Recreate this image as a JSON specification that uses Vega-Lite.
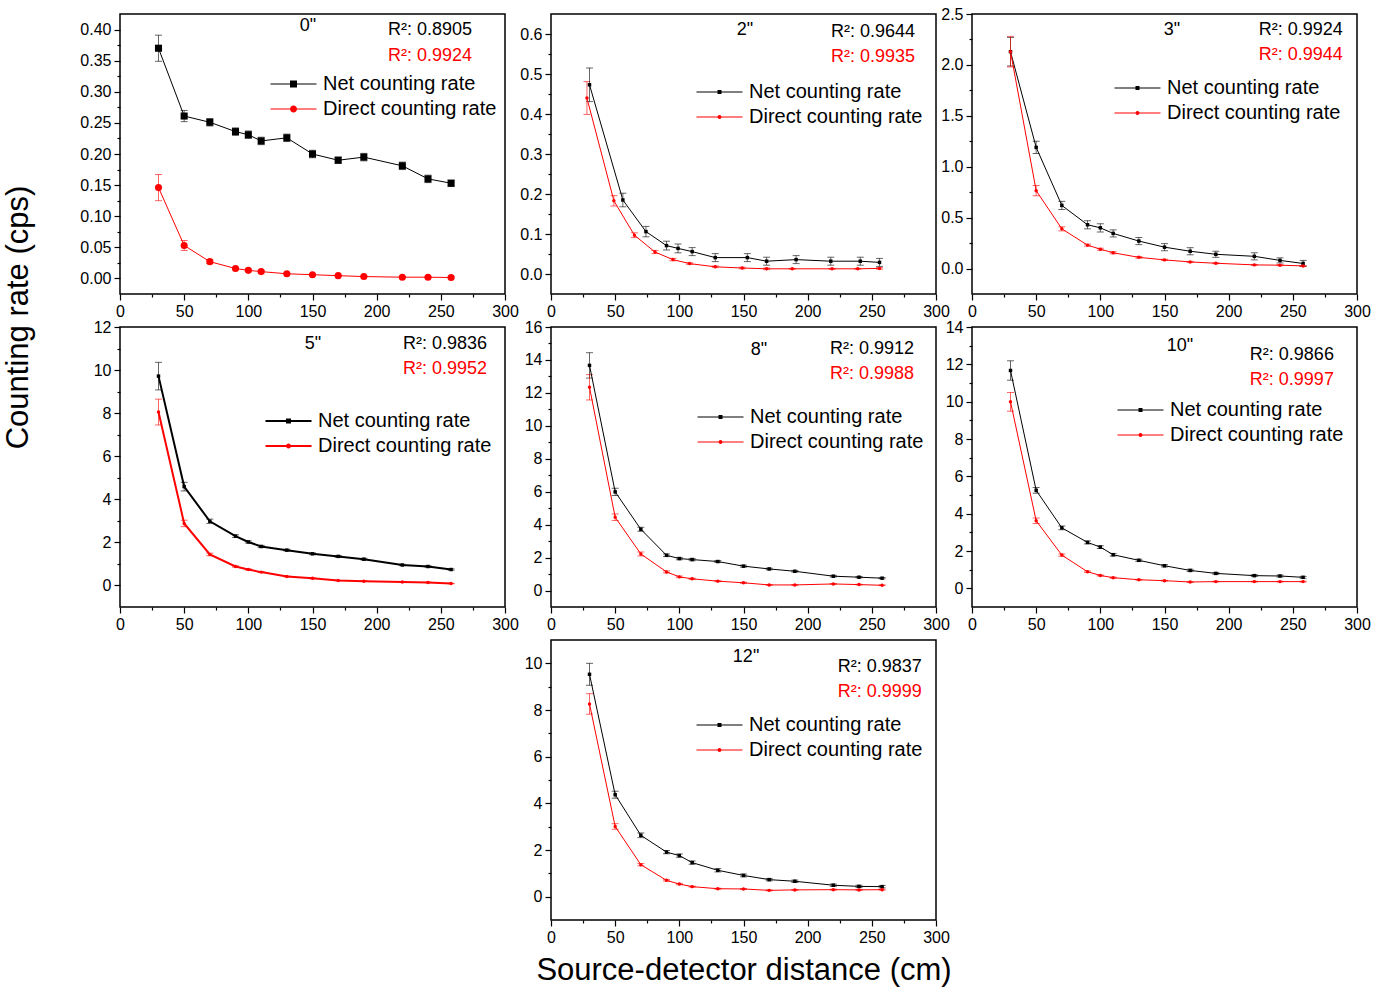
{
"$schema":"https://vega.github.io/schema/vega-lite/v6.json",
"background":"white",
"padding":{"left":1,"top":5,"right":5,"bottom":5},
"datasets":{
"rates":[
{"panel":"0\"","series":"Net counting rate","distance":30,"rate":0.370,"error":0.021},
{"panel":"0\"","series":"Net counting rate","distance":50,"rate":0.261,"error":0.009},
{"panel":"0\"","series":"Net counting rate","distance":70,"rate":0.251,"error":0.006},
{"panel":"0\"","series":"Net counting rate","distance":90,"rate":0.236,"error":0.006},
{"panel":"0\"","series":"Net counting rate","distance":100,"rate":0.231,"error":0.006},
{"panel":"0\"","series":"Net counting rate","distance":110,"rate":0.221,"error":0.006},
{"panel":"0\"","series":"Net counting rate","distance":130,"rate":0.226,"error":0.006},
{"panel":"0\"","series":"Net counting rate","distance":150,"rate":0.200,"error":0.006},
{"panel":"0\"","series":"Net counting rate","distance":170,"rate":0.190,"error":0.005},
{"panel":"0\"","series":"Net counting rate","distance":190,"rate":0.195,"error":0.006},
{"panel":"0\"","series":"Net counting rate","distance":220,"rate":0.181,"error":0.006},
{"panel":"0\"","series":"Net counting rate","distance":240,"rate":0.160,"error":0.006},
{"panel":"0\"","series":"Net counting rate","distance":258,"rate":0.153,"error":0.005},
{"panel":"0\"","series":"Direct counting rate","distance":30,"rate":0.146,"error":0.021},
{"panel":"0\"","series":"Direct counting rate","distance":50,"rate":0.053,"error":0.008},
{"panel":"0\"","series":"Direct counting rate","distance":70,"rate":0.027,"error":0.003},
{"panel":"0\"","series":"Direct counting rate","distance":90,"rate":0.016,"error":0.002},
{"panel":"0\"","series":"Direct counting rate","distance":100,"rate":0.013,"error":0.002},
{"panel":"0\"","series":"Direct counting rate","distance":110,"rate":0.011,"error":0.002},
{"panel":"0\"","series":"Direct counting rate","distance":130,"rate":0.0075,"error":0.001},
{"panel":"0\"","series":"Direct counting rate","distance":150,"rate":0.006,"error":0.001},
{"panel":"0\"","series":"Direct counting rate","distance":170,"rate":0.0045,"error":0.001},
{"panel":"0\"","series":"Direct counting rate","distance":190,"rate":0.003,"error":0.001},
{"panel":"0\"","series":"Direct counting rate","distance":220,"rate":0.002,"error":0.001},
{"panel":"0\"","series":"Direct counting rate","distance":240,"rate":0.002,"error":0.001},
{"panel":"0\"","series":"Direct counting rate","distance":258,"rate":0.0015,"error":0.001},
{"panel":"2\"","series":"Net counting rate","distance":30,"rate":0.473,"error":0.042},
{"panel":"2\"","series":"Net counting rate","distance":56,"rate":0.185,"error":0.017},
{"panel":"2\"","series":"Net counting rate","distance":74,"rate":0.106,"error":0.013},
{"panel":"2\"","series":"Net counting rate","distance":90,"rate":0.071,"error":0.011},
{"panel":"2\"","series":"Net counting rate","distance":99,"rate":0.064,"error":0.011},
{"panel":"2\"","series":"Net counting rate","distance":110,"rate":0.056,"error":0.010},
{"panel":"2\"","series":"Net counting rate","distance":128,"rate":0.041,"error":0.010},
{"panel":"2\"","series":"Net counting rate","distance":153,"rate":0.041,"error":0.010},
{"panel":"2\"","series":"Net counting rate","distance":168,"rate":0.032,"error":0.010},
{"panel":"2\"","series":"Net counting rate","distance":191,"rate":0.036,"error":0.010},
{"panel":"2\"","series":"Net counting rate","distance":218,"rate":0.032,"error":0.010},
{"panel":"2\"","series":"Net counting rate","distance":241,"rate":0.032,"error":0.010},
{"panel":"2\"","series":"Net counting rate","distance":256,"rate":0.029,"error":0.010},
{"panel":"2\"","series":"Direct counting rate","distance":28,"rate":0.440,"error":0.041},
{"panel":"2\"","series":"Direct counting rate","distance":49,"rate":0.183,"error":0.013},
{"panel":"2\"","series":"Direct counting rate","distance":65,"rate":0.097,"error":0.006},
{"panel":"2\"","series":"Direct counting rate","distance":81,"rate":0.055,"error":0.004},
{"panel":"2\"","series":"Direct counting rate","distance":95,"rate":0.036,"error":0.003},
{"panel":"2\"","series":"Direct counting rate","distance":108,"rate":0.026,"error":0.002},
{"panel":"2\"","series":"Direct counting rate","distance":128,"rate":0.018,"error":0.002},
{"panel":"2\"","series":"Direct counting rate","distance":149,"rate":0.015,"error":0.002},
{"panel":"2\"","series":"Direct counting rate","distance":168,"rate":0.013,"error":0.002},
{"panel":"2\"","series":"Direct counting rate","distance":188,"rate":0.013,"error":0.001},
{"panel":"2\"","series":"Direct counting rate","distance":219,"rate":0.013,"error":0.001},
{"panel":"2\"","series":"Direct counting rate","distance":239,"rate":0.013,"error":0.001},
{"panel":"2\"","series":"Direct counting rate","distance":256,"rate":0.014,"error":0.002},
{"panel":"3\"","series":"Net counting rate","distance":30,"rate":2.13,"error":0.14},
{"panel":"3\"","series":"Net counting rate","distance":50,"rate":1.19,"error":0.06},
{"panel":"3\"","series":"Net counting rate","distance":70,"rate":0.62,"error":0.04},
{"panel":"3\"","series":"Net counting rate","distance":90,"rate":0.43,"error":0.04},
{"panel":"3\"","series":"Net counting rate","distance":100,"rate":0.40,"error":0.04},
{"panel":"3\"","series":"Net counting rate","distance":110,"rate":0.345,"error":0.035},
{"panel":"3\"","series":"Net counting rate","distance":130,"rate":0.27,"error":0.035},
{"panel":"3\"","series":"Net counting rate","distance":150,"rate":0.21,"error":0.035},
{"panel":"3\"","series":"Net counting rate","distance":170,"rate":0.17,"error":0.035},
{"panel":"3\"","series":"Net counting rate","distance":190,"rate":0.14,"error":0.03},
{"panel":"3\"","series":"Net counting rate","distance":220,"rate":0.12,"error":0.035},
{"panel":"3\"","series":"Net counting rate","distance":240,"rate":0.08,"error":0.025},
{"panel":"3\"","series":"Net counting rate","distance":258,"rate":0.05,"error":0.03},
{"panel":"3\"","series":"Direct counting rate","distance":30,"rate":2.13,"error":0.15},
{"panel":"3\"","series":"Direct counting rate","distance":50,"rate":0.765,"error":0.05},
{"panel":"3\"","series":"Direct counting rate","distance":70,"rate":0.39,"error":0.02},
{"panel":"3\"","series":"Direct counting rate","distance":90,"rate":0.23,"error":0.01},
{"panel":"3\"","series":"Direct counting rate","distance":100,"rate":0.19,"error":0.01},
{"panel":"3\"","series":"Direct counting rate","distance":110,"rate":0.155,"error":0.01},
{"panel":"3\"","series":"Direct counting rate","distance":130,"rate":0.11,"error":0.008},
{"panel":"3\"","series":"Direct counting rate","distance":150,"rate":0.085,"error":0.006},
{"panel":"3\"","series":"Direct counting rate","distance":170,"rate":0.065,"error":0.005},
{"panel":"3\"","series":"Direct counting rate","distance":190,"rate":0.052,"error":0.005},
{"panel":"3\"","series":"Direct counting rate","distance":220,"rate":0.036,"error":0.005},
{"panel":"3\"","series":"Direct counting rate","distance":240,"rate":0.033,"error":0.005},
{"panel":"3\"","series":"Direct counting rate","distance":258,"rate":0.026,"error":0.004},
{"panel":"5\"","series":"Net counting rate","distance":30,"rate":9.72,"error":0.64},
{"panel":"5\"","series":"Net counting rate","distance":50,"rate":4.59,"error":0.2},
{"panel":"5\"","series":"Net counting rate","distance":70,"rate":2.98,"error":0.1},
{"panel":"5\"","series":"Net counting rate","distance":90,"rate":2.29,"error":0.06},
{"panel":"5\"","series":"Net counting rate","distance":100,"rate":2.02,"error":0.05},
{"panel":"5\"","series":"Net counting rate","distance":110,"rate":1.81,"error":0.05},
{"panel":"5\"","series":"Net counting rate","distance":130,"rate":1.64,"error":0.04},
{"panel":"5\"","series":"Net counting rate","distance":150,"rate":1.47,"error":0.04},
{"panel":"5\"","series":"Net counting rate","distance":170,"rate":1.35,"error":0.04},
{"panel":"5\"","series":"Net counting rate","distance":190,"rate":1.22,"error":0.04},
{"panel":"5\"","series":"Net counting rate","distance":220,"rate":0.95,"error":0.03},
{"panel":"5\"","series":"Net counting rate","distance":240,"rate":0.88,"error":0.03},
{"panel":"5\"","series":"Net counting rate","distance":258,"rate":0.74,"error":0.03},
{"panel":"5\"","series":"Direct counting rate","distance":30,"rate":8.05,"error":0.6},
{"panel":"5\"","series":"Direct counting rate","distance":50,"rate":2.88,"error":0.15},
{"panel":"5\"","series":"Direct counting rate","distance":70,"rate":1.44,"error":0.06},
{"panel":"5\"","series":"Direct counting rate","distance":90,"rate":0.88,"error":0.03},
{"panel":"5\"","series":"Direct counting rate","distance":100,"rate":0.74,"error":0.03},
{"panel":"5\"","series":"Direct counting rate","distance":110,"rate":0.62,"error":0.02},
{"panel":"5\"","series":"Direct counting rate","distance":130,"rate":0.42,"error":0.02},
{"panel":"5\"","series":"Direct counting rate","distance":150,"rate":0.33,"error":0.02},
{"panel":"5\"","series":"Direct counting rate","distance":170,"rate":0.23,"error":0.01},
{"panel":"5\"","series":"Direct counting rate","distance":190,"rate":0.20,"error":0.01},
{"panel":"5\"","series":"Direct counting rate","distance":220,"rate":0.16,"error":0.01},
{"panel":"5\"","series":"Direct counting rate","distance":240,"rate":0.14,"error":0.01},
{"panel":"5\"","series":"Direct counting rate","distance":258,"rate":0.09,"error":0.01},
{"panel":"8\"","series":"Net counting rate","distance":30,"rate":13.67,"error":0.77},
{"panel":"8\"","series":"Net counting rate","distance":50,"rate":5.99,"error":0.22},
{"panel":"8\"","series":"Net counting rate","distance":70,"rate":3.72,"error":0.12},
{"panel":"8\"","series":"Net counting rate","distance":90,"rate":2.14,"error":0.08},
{"panel":"8\"","series":"Net counting rate","distance":100,"rate":1.94,"error":0.07},
{"panel":"8\"","series":"Net counting rate","distance":110,"rate":1.88,"error":0.07},
{"panel":"8\"","series":"Net counting rate","distance":130,"rate":1.76,"error":0.06},
{"panel":"8\"","series":"Net counting rate","distance":150,"rate":1.48,"error":0.06},
{"panel":"8\"","series":"Net counting rate","distance":170,"rate":1.31,"error":0.05},
{"panel":"8\"","series":"Net counting rate","distance":190,"rate":1.17,"error":0.05},
{"panel":"8\"","series":"Net counting rate","distance":220,"rate":0.87,"error":0.05},
{"panel":"8\"","series":"Net counting rate","distance":240,"rate":0.81,"error":0.04},
{"panel":"8\"","series":"Net counting rate","distance":258,"rate":0.75,"error":0.04},
{"panel":"8\"","series":"Direct counting rate","distance":30,"rate":12.34,"error":0.77},
{"panel":"8\"","series":"Direct counting rate","distance":50,"rate":4.45,"error":0.2},
{"panel":"8\"","series":"Direct counting rate","distance":70,"rate":2.22,"error":0.12},
{"panel":"8\"","series":"Direct counting rate","distance":90,"rate":1.13,"error":0.06},
{"panel":"8\"","series":"Direct counting rate","distance":100,"rate":0.83,"error":0.05},
{"panel":"8\"","series":"Direct counting rate","distance":110,"rate":0.71,"error":0.04},
{"panel":"8\"","series":"Direct counting rate","distance":130,"rate":0.57,"error":0.03},
{"panel":"8\"","series":"Direct counting rate","distance":150,"rate":0.47,"error":0.03},
{"panel":"8\"","series":"Direct counting rate","distance":170,"rate":0.34,"error":0.02},
{"panel":"8\"","series":"Direct counting rate","distance":190,"rate":0.34,"error":0.02},
{"panel":"8\"","series":"Direct counting rate","distance":220,"rate":0.40,"error":0.02},
{"panel":"8\"","series":"Direct counting rate","distance":240,"rate":0.36,"error":0.02},
{"panel":"8\"","series":"Direct counting rate","distance":258,"rate":0.32,"error":0.02},
{"panel":"10\"","series":"Net counting rate","distance":30,"rate":11.67,"error":0.52},
{"panel":"10\"","series":"Net counting rate","distance":50,"rate":5.25,"error":0.15},
{"panel":"10\"","series":"Net counting rate","distance":70,"rate":3.24,"error":0.1},
{"panel":"10\"","series":"Net counting rate","distance":90,"rate":2.46,"error":0.08},
{"panel":"10\"","series":"Net counting rate","distance":100,"rate":2.21,"error":0.07},
{"panel":"10\"","series":"Net counting rate","distance":110,"rate":1.80,"error":0.07},
{"panel":"10\"","series":"Net counting rate","distance":130,"rate":1.50,"error":0.06},
{"panel":"10\"","series":"Net counting rate","distance":150,"rate":1.21,"error":0.06},
{"panel":"10\"","series":"Net counting rate","distance":170,"rate":0.96,"error":0.06},
{"panel":"10\"","series":"Net counting rate","distance":190,"rate":0.80,"error":0.05},
{"panel":"10\"","series":"Net counting rate","distance":220,"rate":0.68,"error":0.05},
{"panel":"10\"","series":"Net counting rate","distance":240,"rate":0.66,"error":0.05},
{"panel":"10\"","series":"Net counting rate","distance":258,"rate":0.59,"error":0.05},
{"panel":"10\"","series":"Direct counting rate","distance":30,"rate":9.99,"error":0.5},
{"panel":"10\"","series":"Direct counting rate","distance":50,"rate":3.62,"error":0.15},
{"panel":"10\"","series":"Direct counting rate","distance":70,"rate":1.78,"error":0.06},
{"panel":"10\"","series":"Direct counting rate","distance":90,"rate":0.89,"error":0.04},
{"panel":"10\"","series":"Direct counting rate","distance":100,"rate":0.69,"error":0.03},
{"panel":"10\"","series":"Direct counting rate","distance":110,"rate":0.57,"error":0.03},
{"panel":"10\"","series":"Direct counting rate","distance":130,"rate":0.46,"error":0.02},
{"panel":"10\"","series":"Direct counting rate","distance":150,"rate":0.41,"error":0.02},
{"panel":"10\"","series":"Direct counting rate","distance":170,"rate":0.34,"error":0.02},
{"panel":"10\"","series":"Direct counting rate","distance":190,"rate":0.36,"error":0.02},
{"panel":"10\"","series":"Direct counting rate","distance":220,"rate":0.36,"error":0.02},
{"panel":"10\"","series":"Direct counting rate","distance":240,"rate":0.36,"error":0.02},
{"panel":"10\"","series":"Direct counting rate","distance":258,"rate":0.36,"error":0.02},
{"panel":"12\"","series":"Net counting rate","distance":30,"rate":9.53,"error":0.47},
{"panel":"12\"","series":"Net counting rate","distance":50,"rate":4.37,"error":0.15},
{"panel":"12\"","series":"Net counting rate","distance":70,"rate":2.63,"error":0.1},
{"panel":"12\"","series":"Net counting rate","distance":90,"rate":1.91,"error":0.07},
{"panel":"12\"","series":"Net counting rate","distance":100,"rate":1.76,"error":0.07},
{"panel":"12\"","series":"Net counting rate","distance":110,"rate":1.46,"error":0.07},
{"panel":"12\"","series":"Net counting rate","distance":130,"rate":1.13,"error":0.07},
{"panel":"12\"","series":"Net counting rate","distance":150,"rate":0.91,"error":0.06},
{"panel":"12\"","series":"Net counting rate","distance":170,"rate":0.73,"error":0.05},
{"panel":"12\"","series":"Net counting rate","distance":190,"rate":0.66,"error":0.05},
{"panel":"12\"","series":"Net counting rate","distance":220,"rate":0.49,"error":0.05},
{"panel":"12\"","series":"Net counting rate","distance":240,"rate":0.44,"error":0.05},
{"panel":"12\"","series":"Net counting rate","distance":258,"rate":0.43,"error":0.05},
{"panel":"12\"","series":"Direct counting rate","distance":30,"rate":8.26,"error":0.44},
{"panel":"12\"","series":"Direct counting rate","distance":50,"rate":3.01,"error":0.12},
{"panel":"12\"","series":"Direct counting rate","distance":70,"rate":1.37,"error":0.05},
{"panel":"12\"","series":"Direct counting rate","distance":90,"rate":0.70,"error":0.03},
{"panel":"12\"","series":"Direct counting rate","distance":100,"rate":0.54,"error":0.03},
{"panel":"12\"","series":"Direct counting rate","distance":110,"rate":0.43,"error":0.02},
{"panel":"12\"","series":"Direct counting rate","distance":130,"rate":0.34,"error":0.02},
{"panel":"12\"","series":"Direct counting rate","distance":150,"rate":0.33,"error":0.02},
{"panel":"12\"","series":"Direct counting rate","distance":170,"rate":0.27,"error":0.02},
{"panel":"12\"","series":"Direct counting rate","distance":190,"rate":0.29,"error":0.02},
{"panel":"12\"","series":"Direct counting rate","distance":220,"rate":0.30,"error":0.02},
{"panel":"12\"","series":"Direct counting rate","distance":240,"rate":0.29,"error":0.02},
{"panel":"12\"","series":"Direct counting rate","distance":258,"rate":0.30,"error":0.02}
],
"fits":[
{"panel":"0\"","series":"Net counting rate","r2":"R²: 0.8905"},
{"panel":"0\"","series":"Direct counting rate","r2":"R²: 0.9924"},
{"panel":"2\"","series":"Net counting rate","r2":"R²: 0.9644"},
{"panel":"2\"","series":"Direct counting rate","r2":"R²: 0.9935"},
{"panel":"3\"","series":"Net counting rate","r2":"R²: 0.9924"},
{"panel":"3\"","series":"Direct counting rate","r2":"R²: 0.9944"},
{"panel":"5\"","series":"Net counting rate","r2":"R²: 0.9836"},
{"panel":"5\"","series":"Direct counting rate","r2":"R²: 0.9952"},
{"panel":"8\"","series":"Net counting rate","r2":"R²: 0.9912"},
{"panel":"8\"","series":"Direct counting rate","r2":"R²: 0.9988"},
{"panel":"10\"","series":"Net counting rate","r2":"R²: 0.9866"},
{"panel":"10\"","series":"Direct counting rate","r2":"R²: 0.9997"},
{"panel":"12\"","series":"Net counting rate","r2":"R²: 0.9837"},
{"panel":"12\"","series":"Direct counting rate","r2":"R²: 0.9999"}
]
},
"columns":3,
"bounds":"flush",
"spacing":{"row":33,"column":36},
"resolve":{"scale":{"color":"independent","shape":"independent"},"legend":{"color":"independent","shape":"independent"}},
"concat":[
{"width":385,"height":280,
 "layer":[
  {"data":{"name":"rates"},"transform":[{"filter":"datum.panel === '0\"'"}],
   "mark":{"type":"errorbar","ticks":{"size":7},"opacity":0.6},
   "encoding":{"x":{"field":"distance","type":"quantitative","scale":{"domain":[0,300],"nice":false},"axis":null},
    "y":{"field":"rate","type":"quantitative","scale":{"domain":[-0.025,0.425],"nice":false,"zero":false},"axis":null},
    "yError":{"field":"error"},
    "color":{"field":"series","type":"nominal","scale":{"domain":["Net counting rate","Direct counting rate"],"range":["black","red"]},"legend":null}}},
  {"data":{"name":"rates"},"transform":[{"filter":"datum.panel === '0\"'"}],
   "mark":{"type":"line","strokeWidth":1},
   "encoding":{"x":{"field":"distance","type":"quantitative","axis":{"orient":"bottom","values":[0,50,100,150,200,250,300],"title":null}},
    "y":{"field":"rate","type":"quantitative","axis":{"orient":"left","values":[0,0.05,0.1,0.15,0.2,0.25,0.3,0.35,0.4],"format":".2f","title":null}},
    "color":{"field":"series","type":"nominal","scale":{"domain":["Net counting rate","Direct counting rate"],"range":["black","red"]},"legend":null}}},
  {"data":{"name":"rates"},"transform":[{"filter":"datum.panel === '0\"'"}],
   "mark":{"type":"point","filled":true,"size":50,"opacity":1},
   "encoding":{"x":{"field":"distance","type":"quantitative","axis":{"orient":"bottom","values":[25,75,125,175,225,275],"labels":false,"tickSize":3,"title":null}},
    "y":{"field":"rate","type":"quantitative","axis":{"orient":"left","values":[0.025,0.075,0.125,0.175,0.225,0.275,0.325,0.375],"labels":false,"tickSize":3,"title":null}},
    "color":{"field":"series","type":"nominal","scale":{"domain":["Net counting rate","Direct counting rate"],"range":["black","red"]},"legend":null},
    "shape":{"field":"series","type":"nominal","scale":{"domain":["Net counting rate","Direct counting rate"],"range":["square","circle"]},"legend":null}}},
  {"data":{"name":"rates"},"transform":[{"filter":"datum.panel === '0\"'"}],
   "mark":{"type":"point","filled":true,"size":4,"opacity":0},
   "encoding":{"x":{"field":"distance","type":"quantitative","axis":null},
    "y":{"field":"rate","type":"quantitative","axis":null},
    "color":{"field":"series","type":"nominal","scale":{"domain":["Net counting rate","Direct counting rate"],"range":["black","red"]},"legend":{"orient":"none","legendX":163.5,"legendY":60,"title":null,"labelOffset":19.5,"symbolOpacity":1,"symbolStrokeWidth":0,"symbolSize":4}},
    "shape":{"field":"series","type":"nominal","scale":{"domain":["Net counting rate","Direct counting rate"],"range":["M-23,-0.5H23V0.5H-23ZM-3.5,-3.5H3.5V3.5H-3.5Z","M-23,-0.5H23V0.5H-23ZM3.5,0A3.5,3.5,0,1,1,-3.5,0A3.5,3.5,0,1,1,3.5,0Z"]},"legend":{"orient":"none","legendX":163.5,"legendY":60,"title":null,"labelOffset":19.5,"symbolOpacity":1,"symbolStrokeWidth":0,"symbolSize":4}}}},
  {"data":{"name":"fits"},"transform":[{"filter":"datum.panel === '0\"' && datum.series === 'Net counting rate'"}],
   "mark":{"type":"text","align":"center","baseline":"middle","fontSize":18,"color":"black"},
   "encoding":{"x":{"datum":146.5,"axis":null},"y":{"datum":0.4057,"axis":null},"text":{"field":"panel"}}},
  {"data":{"name":"fits"},"transform":[{"filter":"datum.panel === '0\"' && datum.series === 'Net counting rate'"}],
   "mark":{"type":"text","align":"right","baseline":"middle","fontSize":18,"color":"black"},
   "encoding":{"x":{"datum":274.3,"axis":null},"y":{"datum":0.3993,"axis":null},"text":{"field":"r2"}}},
  {"data":{"name":"fits"},"transform":[{"filter":"datum.panel === '0\"' && datum.series === 'Direct counting rate'"}],
   "mark":{"type":"text","align":"right","baseline":"middle","fontSize":18,"color":"red"},
   "encoding":{"x":{"datum":274.3,"axis":null},"y":{"datum":0.3575,"axis":null},"text":{"field":"r2"}}}
 ],
 "resolve":{"axis":{"x":"independent","y":"independent"},"scale":{"color":"independent","shape":"independent"}}},
{"width":385,"height":280,
 "layer":[
  {"data":{"name":"rates"},"transform":[{"filter":"datum.panel === '2\"'"}],
   "mark":{"type":"errorbar","ticks":{"size":7},"opacity":0.6},
   "encoding":{"x":{"field":"distance","type":"quantitative","scale":{"domain":[0,300],"nice":false},"axis":null},
    "y":{"field":"rate","type":"quantitative","scale":{"domain":[-0.05,0.65],"nice":false,"zero":false},"axis":null},
    "yError":{"field":"error"},
    "color":{"field":"series","type":"nominal","scale":{"domain":["Net counting rate","Direct counting rate"],"range":["black","red"]},"legend":null}}},
  {"data":{"name":"rates"},"transform":[{"filter":"datum.panel === '2\"'"}],
   "mark":{"type":"line","strokeWidth":1},
   "encoding":{"x":{"field":"distance","type":"quantitative","axis":{"orient":"bottom","values":[0,50,100,150,200,250,300],"title":null}},
    "y":{"field":"rate","type":"quantitative","axis":{"orient":"left","values":[0,0.1,0.2,0.3,0.4,0.5,0.6],"format":".1f","title":null}},
    "color":{"field":"series","type":"nominal","scale":{"domain":["Net counting rate","Direct counting rate"],"range":["black","red"]},"legend":null}}},
  {"data":{"name":"rates"},"transform":[{"filter":"datum.panel === '2\"'"}],
   "mark":{"type":"point","filled":true,"size":12,"opacity":1},
   "encoding":{"x":{"field":"distance","type":"quantitative","axis":{"orient":"bottom","values":[25,75,125,175,225,275],"labels":false,"tickSize":3,"title":null}},
    "y":{"field":"rate","type":"quantitative","axis":{"orient":"left","values":[0.05,0.15,0.25,0.35,0.45,0.55],"labels":false,"tickSize":3,"title":null}},
    "color":{"field":"series","type":"nominal","scale":{"domain":["Net counting rate","Direct counting rate"],"range":["black","red"]},"legend":null},
    "shape":{"field":"series","type":"nominal","scale":{"domain":["Net counting rate","Direct counting rate"],"range":["square","circle"]},"legend":null}}},
  {"data":{"name":"rates"},"transform":[{"filter":"datum.panel === '2\"'"}],
   "mark":{"type":"point","filled":true,"size":4,"opacity":0},
   "encoding":{"x":{"field":"distance","type":"quantitative","axis":null},
    "y":{"field":"rate","type":"quantitative","axis":null},
    "color":{"field":"series","type":"nominal","scale":{"domain":["Net counting rate","Direct counting rate"],"range":["black","red"]},"legend":{"orient":"none","legendX":158.5,"legendY":68,"title":null,"labelOffset":19.5,"symbolOpacity":1,"symbolStrokeWidth":0,"symbolSize":4}},
    "shape":{"field":"series","type":"nominal","scale":{"domain":["Net counting rate","Direct counting rate"],"range":["M-23,-0.5H23V0.5H-23ZM-2,-2H2V2H-2Z","M-23,-0.5H23V0.5H-23ZM2,0A2,2,0,1,1,-2,0A2,2,0,1,1,2,0Z"]},"legend":{"orient":"none","legendX":158.5,"legendY":68,"title":null,"labelOffset":19.5,"symbolOpacity":1,"symbolStrokeWidth":0,"symbolSize":4}}}},
  {"data":{"name":"fits"},"transform":[{"filter":"datum.panel === '2\"' && datum.series === 'Net counting rate'"}],
   "mark":{"type":"text","align":"center","baseline":"middle","fontSize":18,"color":"black"},
   "encoding":{"x":{"datum":151.2,"axis":null},"y":{"datum":0.61,"axis":null},"text":{"field":"panel"}}},
  {"data":{"name":"fits"},"transform":[{"filter":"datum.panel === '2\"' && datum.series === 'Net counting rate'"}],
   "mark":{"type":"text","align":"right","baseline":"middle","fontSize":18,"color":"black"},
   "encoding":{"x":{"datum":283.6,"axis":null},"y":{"datum":0.605,"axis":null},"text":{"field":"r2"}}},
  {"data":{"name":"fits"},"transform":[{"filter":"datum.panel === '2\"' && datum.series === 'Direct counting rate'"}],
   "mark":{"type":"text","align":"right","baseline":"middle","fontSize":18,"color":"red"},
   "encoding":{"x":{"datum":283.6,"axis":null},"y":{"datum":0.5425,"axis":null},"text":{"field":"r2"}}}
 ],
 "resolve":{"axis":{"x":"independent","y":"independent"},"scale":{"color":"independent","shape":"independent"}}},
{"width":385,"height":280,
 "layer":[
  {"data":{"name":"rates"},"transform":[{"filter":"datum.panel === '3\"'"}],
   "mark":{"type":"errorbar","ticks":{"size":7},"opacity":0.6},
   "encoding":{"x":{"field":"distance","type":"quantitative","scale":{"domain":[0,300],"nice":false},"axis":null},
    "y":{"field":"rate","type":"quantitative","scale":{"domain":[-0.25,2.5],"nice":false,"zero":false},"axis":null},
    "yError":{"field":"error"},
    "color":{"field":"series","type":"nominal","scale":{"domain":["Net counting rate","Direct counting rate"],"range":["black","red"]},"legend":null}}},
  {"data":{"name":"rates"},"transform":[{"filter":"datum.panel === '3\"'"}],
   "mark":{"type":"line","strokeWidth":1},
   "encoding":{"x":{"field":"distance","type":"quantitative","axis":{"orient":"bottom","values":[0,50,100,150,200,250,300],"title":null}},
    "y":{"field":"rate","type":"quantitative","axis":{"orient":"left","values":[0,0.5,1,1.5,2,2.5],"format":".1f","title":null}},
    "color":{"field":"series","type":"nominal","scale":{"domain":["Net counting rate","Direct counting rate"],"range":["black","red"]},"legend":null}}},
  {"data":{"name":"rates"},"transform":[{"filter":"datum.panel === '3\"'"}],
   "mark":{"type":"point","filled":true,"size":12,"opacity":1},
   "encoding":{"x":{"field":"distance","type":"quantitative","axis":{"orient":"bottom","values":[25,75,125,175,225,275],"labels":false,"tickSize":3,"title":null}},
    "y":{"field":"rate","type":"quantitative","axis":{"orient":"left","values":[0.25,0.75,1.25,1.75,2.25],"labels":false,"tickSize":3,"title":null}},
    "color":{"field":"series","type":"nominal","scale":{"domain":["Net counting rate","Direct counting rate"],"range":["black","red"]},"legend":null},
    "shape":{"field":"series","type":"nominal","scale":{"domain":["Net counting rate","Direct counting rate"],"range":["square","circle"]},"legend":null}}},
  {"data":{"name":"rates"},"transform":[{"filter":"datum.panel === '3\"'"}],
   "mark":{"type":"point","filled":true,"size":4,"opacity":0},
   "encoding":{"x":{"field":"distance","type":"quantitative","axis":null},
    "y":{"field":"rate","type":"quantitative","axis":null},
    "color":{"field":"series","type":"nominal","scale":{"domain":["Net counting rate","Direct counting rate"],"range":["black","red"]},"legend":{"orient":"none","legendX":155.5,"legendY":64,"title":null,"labelOffset":19.5,"symbolOpacity":1,"symbolStrokeWidth":0,"symbolSize":4}},
    "shape":{"field":"series","type":"nominal","scale":{"domain":["Net counting rate","Direct counting rate"],"range":["M-23,-0.5H23V0.5H-23ZM-2,-2H2V2H-2Z","M-23,-0.5H23V0.5H-23ZM2,0A2,2,0,1,1,-2,0A2,2,0,1,1,2,0Z"]},"legend":{"orient":"none","legendX":155.5,"legendY":64,"title":null,"labelOffset":19.5,"symbolOpacity":1,"symbolStrokeWidth":0,"symbolSize":4}}}},
  {"data":{"name":"fits"},"transform":[{"filter":"datum.panel === '3\"' && datum.series === 'Net counting rate'"}],
   "mark":{"type":"text","align":"center","baseline":"middle","fontSize":18,"color":"black"},
   "encoding":{"x":{"datum":155.8,"axis":null},"y":{"datum":2.343,"axis":null},"text":{"field":"panel"}}},
  {"data":{"name":"fits"},"transform":[{"filter":"datum.panel === '3\"' && datum.series === 'Net counting rate'"}],
   "mark":{"type":"text","align":"right","baseline":"middle","fontSize":18,"color":"black"},
   "encoding":{"x":{"datum":289,"axis":null},"y":{"datum":2.343,"axis":null},"text":{"field":"r2"}}},
  {"data":{"name":"fits"},"transform":[{"filter":"datum.panel === '3\"' && datum.series === 'Direct counting rate'"}],
   "mark":{"type":"text","align":"right","baseline":"middle","fontSize":18,"color":"red"},
   "encoding":{"x":{"datum":289,"axis":null},"y":{"datum":2.097,"axis":null},"text":{"field":"r2"}}}
 ],
 "resolve":{"axis":{"x":"independent","y":"independent"},"scale":{"color":"independent","shape":"independent"}}},
{"width":385,"height":280,
 "layer":[
  {"data":{"name":"rates"},"transform":[{"filter":"datum.panel === '5\"'"}],
   "mark":{"type":"errorbar","ticks":{"size":7},"opacity":0.6},
   "encoding":{"x":{"field":"distance","type":"quantitative","scale":{"domain":[0,300],"nice":false},"axis":null},
    "y":{"field":"rate","type":"quantitative","scale":{"domain":[-1,12],"nice":false,"zero":false},"axis":null},
    "yError":{"field":"error"},
    "color":{"field":"series","type":"nominal","scale":{"domain":["Net counting rate","Direct counting rate"],"range":["black","red"]},"legend":null}}},
  {"data":{"name":"rates"},"transform":[{"filter":"datum.panel === '5\"'"}],
   "mark":{"type":"line","strokeWidth":2},
   "encoding":{"x":{"field":"distance","type":"quantitative","axis":{"orient":"bottom","values":[0,50,100,150,200,250,300],"title":null}},
    "y":{"field":"rate","type":"quantitative","axis":{"orient":"left","values":[0,2,4,6,8,10,12],"format":"d","title":"Counting rate (cps)","titleX":-93,"titleY":-10,"titleBaseline":"alphabetic","titleAlign":"center","titleAngle":-90}},
    "color":{"field":"series","type":"nominal","scale":{"domain":["Net counting rate","Direct counting rate"],"range":["black","red"]},"legend":null}}},
  {"data":{"name":"rates"},"transform":[{"filter":"datum.panel === '5\"'"}],
   "mark":{"type":"point","filled":true,"size":12,"opacity":1},
   "encoding":{"x":{"field":"distance","type":"quantitative","axis":{"orient":"bottom","values":[25,75,125,175,225,275],"labels":false,"tickSize":3,"title":null}},
    "y":{"field":"rate","type":"quantitative","axis":{"orient":"left","values":[1,3,5,7,9,11],"labels":false,"tickSize":3,"title":null}},
    "color":{"field":"series","type":"nominal","scale":{"domain":["Net counting rate","Direct counting rate"],"range":["black","red"]},"legend":null},
    "shape":{"field":"series","type":"nominal","scale":{"domain":["Net counting rate","Direct counting rate"],"range":["square","circle"]},"legend":null}}},
  {"data":{"name":"rates"},"transform":[{"filter":"datum.panel === '5\"'"}],
   "mark":{"type":"point","filled":true,"size":4,"opacity":0},
   "encoding":{"x":{"field":"distance","type":"quantitative","axis":null},
    "y":{"field":"rate","type":"quantitative","axis":null},
    "color":{"field":"series","type":"nominal","scale":{"domain":["Net counting rate","Direct counting rate"],"range":["black","red"]},"legend":{"orient":"none","legendX":158.5,"legendY":84,"title":null,"labelOffset":19.5,"symbolOpacity":1,"symbolStrokeWidth":0,"symbolSize":4}},
    "shape":{"field":"series","type":"nominal","scale":{"domain":["Net counting rate","Direct counting rate"],"range":["M-23,-1H23V1H-23ZM-2.5,-2.5H2.5V2.5H-2.5Z","M-23,-1H23V1H-23ZM2.5,0A2.5,2.5,0,1,1,-2.5,0A2.5,2.5,0,1,1,2.5,0Z"]},"legend":{"orient":"none","legendX":158.5,"legendY":84,"title":null,"labelOffset":19.5,"symbolOpacity":1,"symbolStrokeWidth":0,"symbolSize":4}}}},
  {"data":{"name":"fits"},"transform":[{"filter":"datum.panel === '5\"' && datum.series === 'Net counting rate'"}],
   "mark":{"type":"text","align":"center","baseline":"middle","fontSize":18,"color":"black"},
   "encoding":{"x":{"datum":150.4,"axis":null},"y":{"datum":11.21,"axis":null},"text":{"field":"panel"}}},
  {"data":{"name":"fits"},"transform":[{"filter":"datum.panel === '5\"' && datum.series === 'Net counting rate'"}],
   "mark":{"type":"text","align":"right","baseline":"middle","fontSize":18,"color":"black"},
   "encoding":{"x":{"datum":286,"axis":null},"y":{"datum":11.21,"axis":null},"text":{"field":"r2"}}},
  {"data":{"name":"fits"},"transform":[{"filter":"datum.panel === '5\"' && datum.series === 'Direct counting rate'"}],
   "mark":{"type":"text","align":"right","baseline":"middle","fontSize":18,"color":"red"},
   "encoding":{"x":{"datum":286,"axis":null},"y":{"datum":10.05,"axis":null},"text":{"field":"r2"}}}
 ],
 "resolve":{"axis":{"x":"independent","y":"independent"},"scale":{"color":"independent","shape":"independent"}}},
{"width":385,"height":280,
 "layer":[
  {"data":{"name":"rates"},"transform":[{"filter":"datum.panel === '8\"'"}],
   "mark":{"type":"errorbar","ticks":{"size":7},"opacity":0.6},
   "encoding":{"x":{"field":"distance","type":"quantitative","scale":{"domain":[0,300],"nice":false},"axis":null},
    "y":{"field":"rate","type":"quantitative","scale":{"domain":[-1,16],"nice":false,"zero":false},"axis":null},
    "yError":{"field":"error"},
    "color":{"field":"series","type":"nominal","scale":{"domain":["Net counting rate","Direct counting rate"],"range":["black","red"]},"legend":null}}},
  {"data":{"name":"rates"},"transform":[{"filter":"datum.panel === '8\"'"}],
   "mark":{"type":"line","strokeWidth":1},
   "encoding":{"x":{"field":"distance","type":"quantitative","axis":{"orient":"bottom","values":[0,50,100,150,200,250,300],"title":null}},
    "y":{"field":"rate","type":"quantitative","axis":{"orient":"left","values":[0,2,4,6,8,10,12,14,16],"format":"d","title":null}},
    "color":{"field":"series","type":"nominal","scale":{"domain":["Net counting rate","Direct counting rate"],"range":["black","red"]},"legend":null}}},
  {"data":{"name":"rates"},"transform":[{"filter":"datum.panel === '8\"'"}],
   "mark":{"type":"point","filled":true,"size":12,"opacity":1},
   "encoding":{"x":{"field":"distance","type":"quantitative","axis":{"orient":"bottom","values":[25,75,125,175,225,275],"labels":false,"tickSize":3,"title":null}},
    "y":{"field":"rate","type":"quantitative","axis":{"orient":"left","values":[1,3,5,7,9,11,13,15],"labels":false,"tickSize":3,"title":null}},
    "color":{"field":"series","type":"nominal","scale":{"domain":["Net counting rate","Direct counting rate"],"range":["black","red"]},"legend":null},
    "shape":{"field":"series","type":"nominal","scale":{"domain":["Net counting rate","Direct counting rate"],"range":["square","circle"]},"legend":null}}},
  {"data":{"name":"rates"},"transform":[{"filter":"datum.panel === '8\"'"}],
   "mark":{"type":"point","filled":true,"size":4,"opacity":0},
   "encoding":{"x":{"field":"distance","type":"quantitative","axis":null},
    "y":{"field":"rate","type":"quantitative","axis":null},
    "color":{"field":"series","type":"nominal","scale":{"domain":["Net counting rate","Direct counting rate"],"range":["black","red"]},"legend":{"orient":"none","legendX":159.5,"legendY":80,"title":null,"labelOffset":19.5,"symbolOpacity":1,"symbolStrokeWidth":0,"symbolSize":4}},
    "shape":{"field":"series","type":"nominal","scale":{"domain":["Net counting rate","Direct counting rate"],"range":["M-23,-0.5H23V0.5H-23ZM-2,-2H2V2H-2Z","M-23,-0.5H23V0.5H-23ZM2,0A2,2,0,1,1,-2,0A2,2,0,1,1,2,0Z"]},"legend":{"orient":"none","legendX":159.5,"legendY":80,"title":null,"labelOffset":19.5,"symbolOpacity":1,"symbolStrokeWidth":0,"symbolSize":4}}}},
  {"data":{"name":"fits"},"transform":[{"filter":"datum.panel === '8\"' && datum.series === 'Net counting rate'"}],
   "mark":{"type":"text","align":"center","baseline":"middle","fontSize":18,"color":"black"},
   "encoding":{"x":{"datum":162,"axis":null},"y":{"datum":14.6,"axis":null},"text":{"field":"panel"}}},
  {"data":{"name":"fits"},"transform":[{"filter":"datum.panel === '8\"' && datum.series === 'Net counting rate'"}],
   "mark":{"type":"text","align":"right","baseline":"middle","fontSize":18,"color":"black"},
   "encoding":{"x":{"datum":282.9,"axis":null},"y":{"datum":14.66,"axis":null},"text":{"field":"r2"}}},
  {"data":{"name":"fits"},"transform":[{"filter":"datum.panel === '8\"' && datum.series === 'Direct counting rate'"}],
   "mark":{"type":"text","align":"right","baseline":"middle","fontSize":18,"color":"red"},
   "encoding":{"x":{"datum":282.9,"axis":null},"y":{"datum":13.15,"axis":null},"text":{"field":"r2"}}}
 ],
 "resolve":{"axis":{"x":"independent","y":"independent"},"scale":{"color":"independent","shape":"independent"}}},
{"width":385,"height":280,
 "layer":[
  {"data":{"name":"rates"},"transform":[{"filter":"datum.panel === '10\"'"}],
   "mark":{"type":"errorbar","ticks":{"size":7},"opacity":0.6},
   "encoding":{"x":{"field":"distance","type":"quantitative","scale":{"domain":[0,300],"nice":false},"axis":null},
    "y":{"field":"rate","type":"quantitative","scale":{"domain":[-1,14],"nice":false,"zero":false},"axis":null},
    "yError":{"field":"error"},
    "color":{"field":"series","type":"nominal","scale":{"domain":["Net counting rate","Direct counting rate"],"range":["black","red"]},"legend":null}}},
  {"data":{"name":"rates"},"transform":[{"filter":"datum.panel === '10\"'"}],
   "mark":{"type":"line","strokeWidth":1},
   "encoding":{"x":{"field":"distance","type":"quantitative","axis":{"orient":"bottom","values":[0,50,100,150,200,250,300],"title":null}},
    "y":{"field":"rate","type":"quantitative","axis":{"orient":"left","values":[0,2,4,6,8,10,12,14],"format":"d","title":null}},
    "color":{"field":"series","type":"nominal","scale":{"domain":["Net counting rate","Direct counting rate"],"range":["black","red"]},"legend":null}}},
  {"data":{"name":"rates"},"transform":[{"filter":"datum.panel === '10\"'"}],
   "mark":{"type":"point","filled":true,"size":12,"opacity":1},
   "encoding":{"x":{"field":"distance","type":"quantitative","axis":{"orient":"bottom","values":[25,75,125,175,225,275],"labels":false,"tickSize":3,"title":null}},
    "y":{"field":"rate","type":"quantitative","axis":{"orient":"left","values":[1,3,5,7,9,11,13],"labels":false,"tickSize":3,"title":null}},
    "color":{"field":"series","type":"nominal","scale":{"domain":["Net counting rate","Direct counting rate"],"range":["black","red"]},"legend":null},
    "shape":{"field":"series","type":"nominal","scale":{"domain":["Net counting rate","Direct counting rate"],"range":["square","circle"]},"legend":null}}},
  {"data":{"name":"rates"},"transform":[{"filter":"datum.panel === '10\"'"}],
   "mark":{"type":"point","filled":true,"size":4,"opacity":0},
   "encoding":{"x":{"field":"distance","type":"quantitative","axis":null},
    "y":{"field":"rate","type":"quantitative","axis":null},
    "color":{"field":"series","type":"nominal","scale":{"domain":["Net counting rate","Direct counting rate"],"range":["black","red"]},"legend":{"orient":"none","legendX":158.5,"legendY":73,"title":null,"labelOffset":19.5,"symbolOpacity":1,"symbolStrokeWidth":0,"symbolSize":4}},
    "shape":{"field":"series","type":"nominal","scale":{"domain":["Net counting rate","Direct counting rate"],"range":["M-23,-0.5H23V0.5H-23ZM-2,-2H2V2H-2Z","M-23,-0.5H23V0.5H-23ZM2,0A2,2,0,1,1,-2,0A2,2,0,1,1,2,0Z"]},"legend":{"orient":"none","legendX":158.5,"legendY":73,"title":null,"labelOffset":19.5,"symbolOpacity":1,"symbolStrokeWidth":0,"symbolSize":4}}}},
  {"data":{"name":"fits"},"transform":[{"filter":"datum.panel === '10\"' && datum.series === 'Net counting rate'"}],
   "mark":{"type":"text","align":"center","baseline":"middle","fontSize":18,"color":"black"},
   "encoding":{"x":{"datum":162,"axis":null},"y":{"datum":12.98,"axis":null},"text":{"field":"panel"}}},
  {"data":{"name":"fits"},"transform":[{"filter":"datum.panel === '10\"' && datum.series === 'Net counting rate'"}],
   "mark":{"type":"text","align":"right","baseline":"middle","fontSize":18,"color":"black"},
   "encoding":{"x":{"datum":282,"axis":null},"y":{"datum":12.5,"axis":null},"text":{"field":"r2"}}},
  {"data":{"name":"fits"},"transform":[{"filter":"datum.panel === '10\"' && datum.series === 'Direct counting rate'"}],
   "mark":{"type":"text","align":"right","baseline":"middle","fontSize":18,"color":"red"},
   "encoding":{"x":{"datum":282,"axis":null},"y":{"datum":11.16,"axis":null},"text":{"field":"r2"}}}
 ],
 "resolve":{"axis":{"x":"independent","y":"independent"},"scale":{"color":"independent","shape":"independent"}}},
{"width":395,"height":280,"view":{"stroke":null},
 "data":{"values":[{"blank":""}]},
 "mark":{"type":"text"},
 "encoding":{"text":{"field":"blank"}}},
{"width":385,"height":280,
 "layer":[
  {"data":{"name":"rates"},"transform":[{"filter":"datum.panel === '12\"'"}],
   "mark":{"type":"errorbar","ticks":{"size":7},"opacity":0.6},
   "encoding":{"x":{"field":"distance","type":"quantitative","scale":{"domain":[0,300],"nice":false},"axis":null},
    "y":{"field":"rate","type":"quantitative","scale":{"domain":[-1,11],"nice":false,"zero":false},"axis":null},
    "yError":{"field":"error"},
    "color":{"field":"series","type":"nominal","scale":{"domain":["Net counting rate","Direct counting rate"],"range":["black","red"]},"legend":null}}},
  {"data":{"name":"rates"},"transform":[{"filter":"datum.panel === '12\"'"}],
   "mark":{"type":"line","strokeWidth":1},
   "encoding":{"x":{"field":"distance","type":"quantitative","axis":{"orient":"bottom","values":[0,50,100,150,200,250,300],"title":"Source-detector distance (cm)","titleY":59,"titleBaseline":"alphabetic"}},
    "y":{"field":"rate","type":"quantitative","axis":{"orient":"left","values":[0,2,4,6,8,10],"format":"d","title":null}},
    "color":{"field":"series","type":"nominal","scale":{"domain":["Net counting rate","Direct counting rate"],"range":["black","red"]},"legend":null}}},
  {"data":{"name":"rates"},"transform":[{"filter":"datum.panel === '12\"'"}],
   "mark":{"type":"point","filled":true,"size":12,"opacity":1},
   "encoding":{"x":{"field":"distance","type":"quantitative","axis":{"orient":"bottom","values":[25,75,125,175,225,275],"labels":false,"tickSize":3,"title":null}},
    "y":{"field":"rate","type":"quantitative","axis":{"orient":"left","values":[1,3,5,7,9],"labels":false,"tickSize":3,"title":null}},
    "color":{"field":"series","type":"nominal","scale":{"domain":["Net counting rate","Direct counting rate"],"range":["black","red"]},"legend":null},
    "shape":{"field":"series","type":"nominal","scale":{"domain":["Net counting rate","Direct counting rate"],"range":["square","circle"]},"legend":null}}},
  {"data":{"name":"rates"},"transform":[{"filter":"datum.panel === '12\"'"}],
   "mark":{"type":"point","filled":true,"size":4,"opacity":0},
   "encoding":{"x":{"field":"distance","type":"quantitative","axis":null},
    "y":{"field":"rate","type":"quantitative","axis":null},
    "color":{"field":"series","type":"nominal","scale":{"domain":["Net counting rate","Direct counting rate"],"range":["black","red"]},"legend":{"orient":"none","legendX":158.5,"legendY":75,"title":null,"labelOffset":19.5,"symbolOpacity":1,"symbolStrokeWidth":0,"symbolSize":4}},
    "shape":{"field":"series","type":"nominal","scale":{"domain":["Net counting rate","Direct counting rate"],"range":["M-23,-0.5H23V0.5H-23ZM-2,-2H2V2H-2Z","M-23,-0.5H23V0.5H-23ZM2,0A2,2,0,1,1,-2,0A2,2,0,1,1,2,0Z"]},"legend":{"orient":"none","legendX":158.5,"legendY":75,"title":null,"labelOffset":19.5,"symbolOpacity":1,"symbolStrokeWidth":0,"symbolSize":4}}}},
  {"data":{"name":"fits"},"transform":[{"filter":"datum.panel === '12\"' && datum.series === 'Net counting rate'"}],
   "mark":{"type":"text","align":"center","baseline":"middle","fontSize":18,"color":"black"},
   "encoding":{"x":{"datum":152,"axis":null},"y":{"datum":10.27,"axis":null},"text":{"field":"panel"}}},
  {"data":{"name":"fits"},"transform":[{"filter":"datum.panel === '12\"' && datum.series === 'Net counting rate'"}],
   "mark":{"type":"text","align":"right","baseline":"middle","fontSize":18,"color":"black"},
   "encoding":{"x":{"datum":289,"axis":null},"y":{"datum":9.84,"axis":null},"text":{"field":"r2"}}},
  {"data":{"name":"fits"},"transform":[{"filter":"datum.panel === '12\"' && datum.series === 'Direct counting rate'"}],
   "mark":{"type":"text","align":"right","baseline":"middle","fontSize":18,"color":"red"},
   "encoding":{"x":{"datum":289,"axis":null},"y":{"datum":8.77,"axis":null},"text":{"field":"r2"}}}
 ],
 "resolve":{"axis":{"x":"independent","y":"independent"},"scale":{"color":"independent","shape":"independent"}}}
],
"config":{
 "font":"Liberation Sans",
 "view":{"stroke":"black","strokeWidth":1.5},
 "axis":{"grid":false,"domain":false,"labelFont":"Liberation Sans","labelFontSize":16,"labelColor":"black","labelFlush":false,"labelOverlap":false,"tickColor":"black","tickWidth":1.2,"tickSize":6,"labelPadding":3,"titleFont":"Liberation Sans","titleFontWeight":"normal","titleColor":"black","titleFontSize":31},
 "legend":{"labelFont":"Liberation Sans","labelFontSize":20,"labelColor":"black","padding":0,"symbolSize":4,"rowPadding":5,"labelLimit":400},
 "text":{"font":"Liberation Sans","fontSize":18}
}
}
